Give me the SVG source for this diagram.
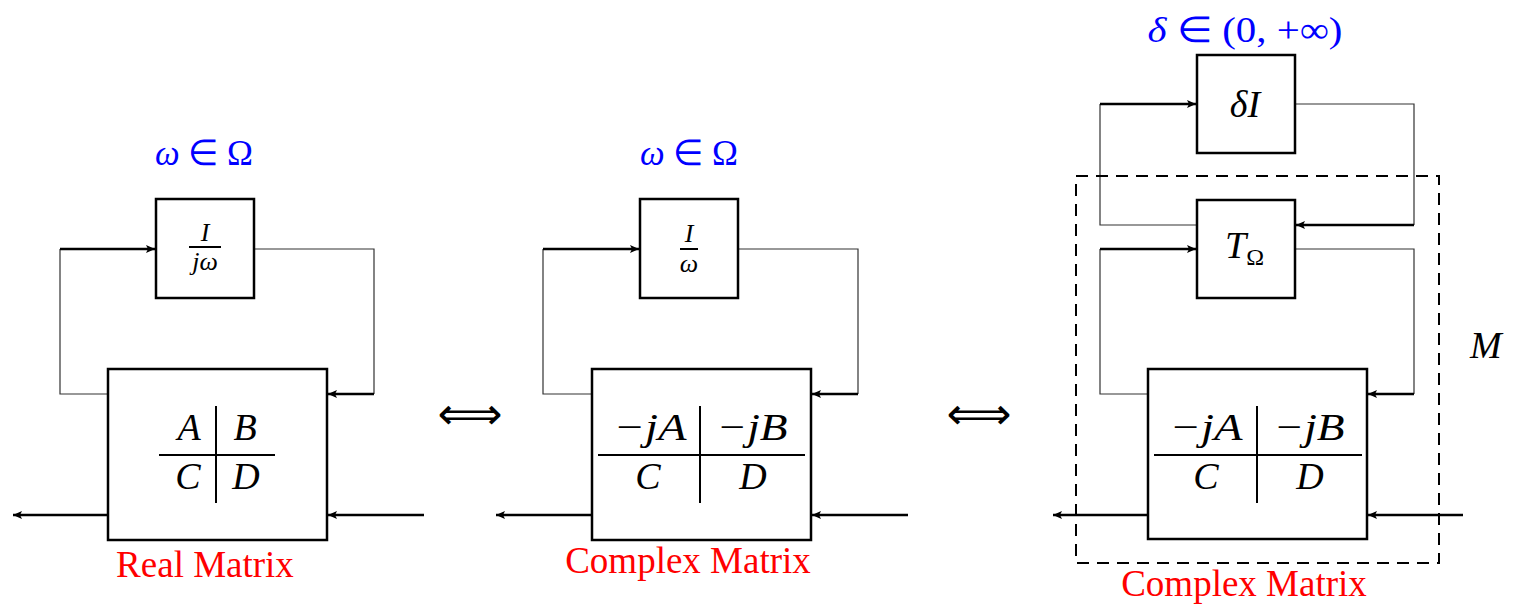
<svg xmlns="http://www.w3.org/2000/svg" width="1515" height="608" viewBox="0 0 1515 608">
<style>
.box{fill:#fff;stroke:#000;stroke-width:2.5}
.thin{fill:none;stroke:#333;stroke-width:1.2}
.thick{fill:none;stroke:#000;stroke-width:2.5}
.mline{stroke:#000;stroke-width:2}
.math{font-family:"Liberation Serif","Times New Roman",serif;font-style:italic;fill:#000}
.blue{font-family:"Liberation Serif","Times New Roman",serif;fill:#0000ff;font-size:36px}
.red{font-family:"Liberation Serif","Times New Roman",serif;fill:#ff0000;font-size:37px}
.sym{font-family:"DejaVu Sans",sans-serif;fill:#000;font-size:44px}
</style>
<defs>
<marker id="ah" markerUnits="userSpaceOnUse" markerWidth="12" markerHeight="10" refX="9" refY="4" orient="auto">
<path d="M0,0 L9,4 L0,8 L2,4 Z" fill="#000"/>
</marker>
</defs>

<g id="connectors">
<!-- left panel -->
<path class="thin" d="M108,394 H60 V249"/>
<path class="thick" d="M60,249 H155" marker-end="url(#ah)"/>
<path class="thin" d="M254,249 H374 V394"/>
<path class="thick" d="M374,394 H328" marker-end="url(#ah)"/>
<path class="thick" d="M108,515 H13" marker-end="url(#ah)"/>
<path class="thick" d="M424,515 H328" marker-end="url(#ah)"/>
<!-- middle panel -->
<path class="thin" d="M592,394 H543 V249"/>
<path class="thick" d="M543,249 H639" marker-end="url(#ah)"/>
<path class="thin" d="M738,249 H858 V394"/>
<path class="thick" d="M858,394 H812" marker-end="url(#ah)"/>
<path class="thick" d="M592,515 H496" marker-end="url(#ah)"/>
<path class="thick" d="M908,515 H812" marker-end="url(#ah)"/>
<!-- right panel -->
<path class="thin" d="M1197,225 H1100 V104"/>
<path class="thick" d="M1100,104 H1196" marker-end="url(#ah)"/>
<path class="thin" d="M1295,104 H1414 V225"/>
<path class="thick" d="M1414,225 H1296" marker-end="url(#ah)"/>
<path class="thin" d="M1148,394 H1100 V249"/>
<path class="thick" d="M1100,249 H1196" marker-end="url(#ah)"/>
<path class="thin" d="M1295,249 H1414 V394"/>
<path class="thick" d="M1414,394 H1368" marker-end="url(#ah)"/>
<path class="thick" d="M1148,515 H1053" marker-end="url(#ah)"/>
<path class="thick" d="M1463,515 H1368" marker-end="url(#ah)"/>
</g>

<!-- left panel -->
<g id="omega-label-1"><text class="blue" x="204" y="165" text-anchor="middle" textLength="98" lengthAdjust="spacingAndGlyphs"><tspan font-style="italic">ω</tspan> ∈ Ω</text></g>
<g id="int-box-1">
<rect class="box" x="156" y="199" width="98" height="99"/>
<text class="math" x="205" y="241" font-size="26" text-anchor="middle">I</text>
<line class="mline" x1="189" y1="247" x2="221" y2="247" stroke-width="1.5"/>
<text class="math" x="205" y="270" font-size="26" text-anchor="middle">jω</text>
</g>
<g id="matrix-box-1">
<rect class="box" x="108" y="369" width="219" height="171"/>
<line class="mline" x1="216" y1="406" x2="216" y2="503"/>
<line class="mline" x1="159" y1="455" x2="275" y2="455"/>
<text class="math" x="189" y="440" font-size="38" text-anchor="middle">A</text>
<text class="math" x="245" y="440" font-size="38" text-anchor="middle">B</text>
<text class="math" x="188" y="489" font-size="38" text-anchor="middle">C</text>
<text class="math" x="246" y="489" font-size="38" text-anchor="middle">D</text>
</g>
<g id="real-label"><text class="red" x="205" y="577" text-anchor="middle">Real Matrix</text></g>

<g id="equiv-1"><text class="sym" x="470" y="429" text-anchor="middle" textLength="65" lengthAdjust="spacingAndGlyphs">⟺</text></g>

<!-- middle panel -->
<g id="omega-label-2"><text class="blue" x="689" y="165" text-anchor="middle" textLength="98" lengthAdjust="spacingAndGlyphs"><tspan font-style="italic">ω</tspan> ∈ Ω</text></g>
<g id="int-box-2">
<rect class="box" x="640" y="199" width="98" height="99"/>
<text class="math" x="689" y="242" font-size="26" text-anchor="middle">I</text>
<line class="mline" x1="680" y1="249" x2="698" y2="249" stroke-width="2.5"/>
<text class="math" x="689" y="272" font-size="26" text-anchor="middle">ω</text>
</g>
<g id="matrix-box-2">
<rect class="box" x="592" y="369" width="219" height="171"/>
<line class="mline" x1="700" y1="406" x2="700" y2="503"/>
<line class="mline" x1="598" y1="455" x2="805" y2="455"/>
<text class="math" x="650" y="440" font-size="38" text-anchor="middle" textLength="73" lengthAdjust="spacingAndGlyphs">−jA</text>
<text class="math" x="752" y="440" font-size="38" text-anchor="middle" textLength="71" lengthAdjust="spacingAndGlyphs">−jB</text>
<text class="math" x="648" y="489" font-size="38" text-anchor="middle">C</text>
<text class="math" x="753" y="489" font-size="38" text-anchor="middle">D</text>
</g>
<g id="complex-label-1"><text class="red" x="688" y="573" text-anchor="middle">Complex Matrix</text></g>

<g id="equiv-2"><text class="sym" x="979" y="429" text-anchor="middle" textLength="65" lengthAdjust="spacingAndGlyphs">⟺</text></g>

<!-- right panel -->
<g id="delta-label"><text class="blue" x="1245" y="42" text-anchor="middle" font-size="38" textLength="195" lengthAdjust="spacingAndGlyphs"><tspan font-style="italic">δ</tspan> ∈ (0, +∞)</text></g>
<g id="delta-box">
<rect class="box" x="1197" y="55" width="98" height="98"/>
<text class="math" x="1245" y="117" font-size="38" text-anchor="middle">δI</text>
</g>
<g id="dashed-M"><rect x="1076" y="176" width="363" height="387" fill="none" stroke="#000" stroke-width="2" stroke-dasharray="12,8"/></g>
<g id="t-omega-box">
<rect class="box" x="1197" y="200" width="98" height="98"/>
<text class="math" x="1225" y="258" font-size="38">T<tspan font-style="normal" font-size="24" dy="7">Ω</tspan></text>
</g>
<g id="matrix-box-3">
<rect class="box" x="1148" y="369" width="219" height="170"/>
<line class="mline" x1="1257" y1="406" x2="1257" y2="503" stroke-width="2.5"/>
<line class="mline" x1="1154" y1="455" x2="1362" y2="455"/>
<text class="math" x="1206" y="440" font-size="38" text-anchor="middle" textLength="73" lengthAdjust="spacingAndGlyphs">−jA</text>
<text class="math" x="1309" y="440" font-size="38" text-anchor="middle" textLength="71" lengthAdjust="spacingAndGlyphs">−jB</text>
<text class="math" x="1206" y="489" font-size="38" text-anchor="middle">C</text>
<text class="math" x="1310" y="489" font-size="38" text-anchor="middle">D</text>
</g>
<g id="M-label"><text class="math" x="1470" y="358" font-size="38">M</text></g>
<g id="complex-label-2"><text class="red" x="1244" y="596" text-anchor="middle">Complex Matrix</text></g>
</svg>
